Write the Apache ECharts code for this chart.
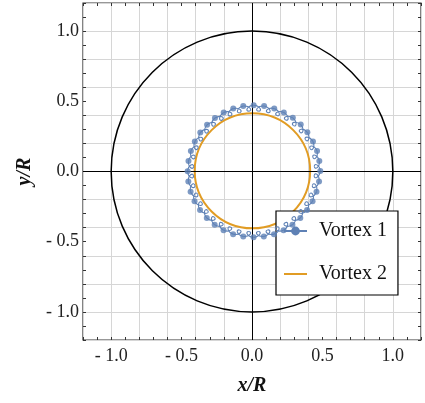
<!DOCTYPE html>
<html>
<head>
<meta charset="utf-8">
<script src="https://cdn.jsdelivr.net/npm/echarts@6/dist/echarts.min.js"></script>
<style>
  html, body { margin: 0; padding: 0; background: #fff; }
  #chart { width: 425px; height: 403px; }
</style>
</head>
<body>
<div id="chart"></div>
<script>
// axis range, shared by x and y
const axisMin = -1.2
const axisMax = 1.2
const tickStep = 0.1
const tickLabelValues = [-1, -0.5, 0, 0.5, 1]

// confining wall: [cx, cy, r]
const wallCircle = [[0, 0, 1]]
// vortex 2 stays on an almost circular orbit: [cx, cy, r]
const vortex2Orbit = [[0.003, 0.005, 0.41]]
// vortex 1 sampled positions (the dots), one per small loop
const vortex1X = [0.485, 0.478, 0.462, 0.433, 0.393, 0.346, 0.290, 0.226, 0.158, 0.086,
  0.012, -0.062, -0.133, -0.201, -0.263, -0.319, -0.367, -0.406, -0.434, -0.451,
  -0.457, -0.452, -0.436, -0.408, -0.369, -0.321, -0.265, -0.202, -0.134, -0.062,
  0.011, 0.084, 0.156, 0.224, 0.287, 0.343, 0.391, 0.430, 0.458, 0.476]
const vortex1Y = [0.004, 0.075, 0.146, 0.214, 0.279, 0.334, 0.382, 0.421, 0.449, 0.466,
  0.472, 0.466, 0.448, 0.420, 0.381, 0.333, 0.277, 0.214, 0.146, 0.074,
  0.002, -0.071, -0.144, -0.212, -0.275, -0.331, -0.379, -0.418, -0.446, -0.463,
  -0.469, -0.463, -0.446, -0.418, -0.379, -0.331, -0.275, -0.212, -0.144, -0.072]

const blue = '#5E81B5'
const orange = '#E19C24'
const serif = 'Liberation Serif'

const vortex1Dots = vortex1X.map((x, i) => [x, vortex1Y[i]])
// each path piece runs from one dot to the next
const vortex1Pieces = vortex1Dots.map((p, i) => {
  const q = vortex1Dots[(i + 1) % vortex1Dots.length]
  return [p[0], p[1], q[0], q[1]]
})

function tickLabel(v) {
  const hit = tickLabelValues.some(t => Math.abs(t - v) < 1e-6)
  if (!hit) return ''
  if (Math.abs(v) < 1e-6) return '0.0'
  return v < 0 ? '- ' + Math.abs(v).toFixed(1) : v.toFixed(1)
}

function renderCircle(color, width) {
  return function (params, api) {
    const c = api.coord([api.value(0), api.value(1)])
    const s = api.size([api.value(2), api.value(2)])
    return {
      type: 'ellipse',
      shape: { cx: c[0], cy: c[1], rx: s[0], ry: s[1] },
      style: { stroke: color, fill: 'none', lineWidth: width }
    }
  }
}

// a small loop, curling towards the middle, between two dots
function renderLoop(params, api) {
  const a = api.coord([api.value(0), api.value(1)])
  const b = api.coord([api.value(2), api.value(3)])
  const o = api.coord([0, 0])
  const ux = b[0] - a[0]
  const uy = b[1] - a[1]
  const len = Math.hypot(ux, uy)
  const tx = ux / len
  const ty = uy / len
  const mx = (a[0] + b[0]) / 2
  const my = (a[1] + b[1]) / 2
  let nx = -ty
  let ny = tx
  if ((o[0] - mx) * nx + (o[1] - my) * ny < 0) {
    nx = -nx
    ny = -ny
  }
  const depth = 5.5
  const lead = 0.65 * len
  const swing = 0.38 * len
  const bx = mx + nx * depth
  const by = my + ny * depth
  const style = { stroke: blue, fill: 'none', lineWidth: 1.1 }
  return {
    type: 'group',
    children: [
      {
        type: 'bezierCurve',
        shape: { x1: a[0], y1: a[1], cpx1: a[0] + tx * lead, cpy1: a[1] + ty * lead,
          cpx2: bx + tx * swing, cpy2: by + ty * swing, x2: bx, y2: by },
        style: style
      },
      {
        type: 'bezierCurve',
        shape: { x1: bx, y1: by, cpx1: bx - tx * swing, cpy1: by - ty * swing,
          cpx2: b[0] - tx * lead, cpy2: b[1] - ty * lead, x2: b[0], y2: b[1] },
        style: style
      }
    ]
  }
}

function makeAxis(position, withLabels, name, nameGap) {
  const axis = {
    type: 'value',
    position: position,
    min: axisMin,
    max: axisMax,
    interval: tickStep,
    axisLine: { show: false, onZero: false },
    axisTick: { show: true, inside: true, length: 3, lineStyle: { color: '#333', width: 1 } },
    axisLabel: {
      show: withLabels,
      formatter: tickLabel,
      fontFamily: serif,
      fontSize: 18,
      color: '#222',
      margin: position === 'bottom' ? 7 : 4
    },
    splitLine: {
      show: withLabels,
      lineStyle: { color: ['#d6d6d6', 'rgba(0,0,0,0)'], width: 1 }
    }
  }
  if (name) {
    axis.name = name
    axis.nameLocation = 'middle'
    axis.nameGap = nameGap
    axis.nameTextStyle = {
      fontFamily: serif,
      fontStyle: 'italic',
      fontWeight: 'bold',
      fontSize: 20,
      color: '#111'
    }
  }
  return axis
}

const chart = echarts.init(document.getElementById('chart'))
chart.setOption({
  animation: false,
  backgroundColor: '#fff',
  grid: {
    left: 83,
    top: 3,
    width: 338,
    height: 337,
    show: true,
    borderColor: '#333',
    borderWidth: 1.2,
    backgroundColor: 'transparent'
  },
  xAxis: [makeAxis('bottom', true, 'x/R', 36), makeAxis('top', false)],
  yAxis: [makeAxis('left', true, 'y/R', 48), makeAxis('right', false)],
  legend: {
    data: [
      { name: 'Vortex 1' },
      { name: 'Vortex 2', itemStyle: { opacity: 0 } }
    ],
    orient: 'vertical',
    left: 276,
    top: 211,
    itemWidth: 23,
    itemHeight: 11,
    itemGap: 21,
    padding: [9, 11, 10, 7],
    backgroundColor: '#fff',
    borderColor: '#000',
    borderWidth: 1.2,
    borderRadius: 0,
    selectedMode: false,
    textStyle: {
      fontFamily: serif,
      fontSize: 20,
      color: '#111',
      lineHeight: 22,
      padding: [0, 0, 0, 7]
    }
  },
  series: [
    {
      type: 'custom',
      name: 'wall',
      renderItem: renderCircle('#000', 1.5),
      encode: { x: 0, y: 1 },
      data: wallCircle,
      silent: true,
      z: 2,
      markLine: {
        silent: true,
        symbol: 'none',
        label: { show: false },
        lineStyle: { color: '#000', width: 1, type: 'solid' },
        data: [{ xAxis: 0 }, { yAxis: 0 }]
      }
    },
    {
      type: 'custom',
      name: 'vortex2Orbit',
      renderItem: renderCircle(orange, 2),
      encode: { x: 0, y: 1 },
      data: vortex2Orbit,
      silent: true,
      z: 3
    },
    {
      type: 'custom',
      name: 'vortex1Path',
      renderItem: renderLoop,
      encode: { x: [0, 2], y: [1, 3] },
      data: vortex1Pieces,
      silent: true,
      z: 4
    },
    {
      type: 'scatter',
      name: 'vortex1Dots',
      data: vortex1Dots,
      symbol: 'circle',
      symbolSize: 6,
      itemStyle: { color: blue },
      silent: true,
      z: 5
    },
    // legend entries
    {
      type: 'line',
      name: 'Vortex 1',
      data: [],
      symbol: 'circle',
      symbolSize: 7,
      itemStyle: { color: blue },
      lineStyle: { color: blue, width: 1.3 }
    },
    {
      type: 'line',
      name: 'Vortex 2',
      data: [],
      symbol: 'none',
      itemStyle: { color: orange },
      lineStyle: { color: orange, width: 2 }
    }
  ]
})
</script>
</body>
</html>
